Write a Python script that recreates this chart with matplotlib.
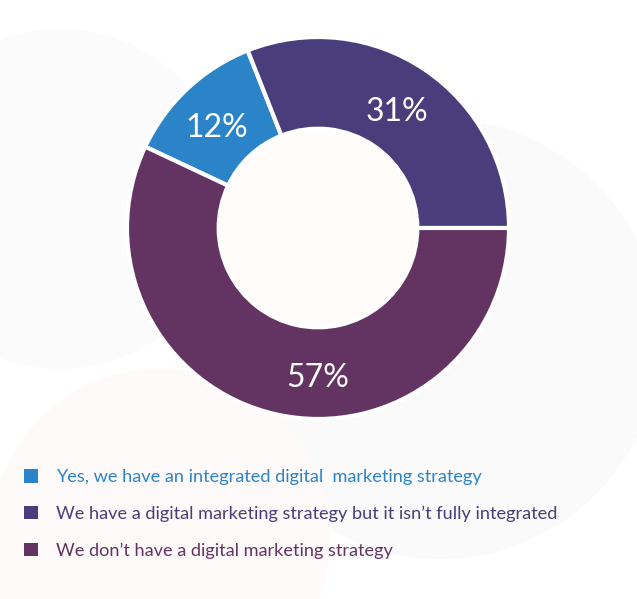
import matplotlib
matplotlib.use("Agg")
import matplotlib.pyplot as plt
from matplotlib.patches import Circle, Patch

categories = [
    "Yes, we have an integrated digital  marketing strategy",
    "We have a digital marketing strategy but it isn\u2019t fully integrated",
    "We don\u2019t have a digital marketing strategy",
]
values = [12, 31, 57]
colors = ["#2C84C8", "#4A3D7B", "#633362"]

plt.rcParams["font.family"] = ["Lato", "DejaVu Sans"]

W, H = 637, 599
fig = plt.figure(figsize=(W / 100, H / 100), dpi=100)
ax = fig.add_axes([0, 0, 1, 1])

# very faint decorative background shapes
for (cx, cy, r, c) in [
    (440, 260, 220, "#FAFAFB"),
    (160, 60, 170, "#FEFAFA"),
    (60, 400, 170, "#FBFBFC"),
]:
    ax.add_patch(Circle((cx, cy), r, facecolor=c, edgecolor="none", zorder=0))

R = 191
center = (318, H - 228)
wedges, texts, autotexts = ax.pie(
    values, colors=colors, radius=R, center=center, startangle=154.8,
    counterclock=False, autopct="%d%%", pctdistance=0.745,
    wedgeprops=dict(width=R * 0.48, edgecolor="white", linewidth=3),
    textprops=dict(color="white", fontsize=23),
    frame=True,
)
ax.set_xlim(0, W)
ax.set_ylim(0, H)
ax.axis("off")
ax.set_aspect("equal")
ax.add_patch(Circle(center, R * 0.52 - 1, facecolor="#FFFCF9", edgecolor="none", zorder=0.9))
autotexts[0].set_position((center[0] - 101, center[1] + 100))
autotexts[1].set_position((center[0] + 79, center[1] + 116))
autotexts[2].set_position((center[0], center[1] - 0.785 * R))

handles = [Patch(facecolor=c, edgecolor="none") for c in colors]
leg = fig.legend(handles, categories, loc="upper left", bbox_to_anchor=(0.012, 0.244),
                 frameon=False, fontsize=13.1, handlelength=0.75, handleheight=0.75,
                 handletextpad=1.0, labelspacing=1.12, labelcolor=colors)

fig.savefig("out.png", dpi=100, facecolor="white")
